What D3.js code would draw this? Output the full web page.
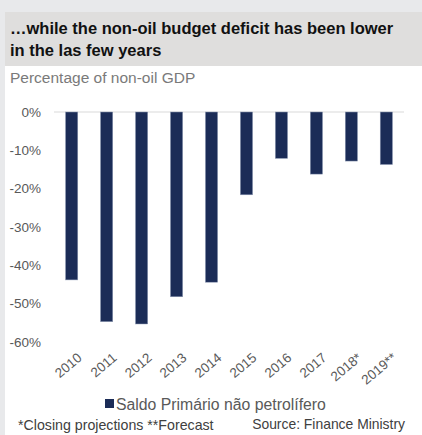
<!DOCTYPE html>
<html>
<head>
<meta charset="utf-8">
<script src="https://cdn.jsdelivr.net/npm/d3@7"></script>
<style>
  body { margin: 0; background: #fff; }
  text { font-family: "Liberation Sans", Arial, sans-serif; }
</style>
</head>
<body>
<div class="chart"></div>
<script>
// Data
const years = ["2010", "2011", "2012", "2013", "2014", "2015", "2016", "2017", "2018*", "2019**"];
const balance = [-43.8, -54.7, -55.3, -48.2, -44.4, -21.6, -12.1, -16.2, -12.8, -13.7];
const yTicks = [0, -10, -20, -30, -40, -50, -60];

const width = 422;
const height = 435;

const svg = d3.select(".chart")
  .append("svg")
  .attr("width", width)
  .attr("height", height);

// Background panels
svg.append("rect").attr("x", 0).attr("y", 0).attr("width", width).attr("height", height).attr("fill", "#fff");
svg.append("rect").attr("x", 0).attr("y", 0).attr("width", width).attr("height", 12).attr("fill", "#e8e9eb");
svg.append("rect").attr("x", 0).attr("y", 0).attr("width", 5).attr("height", height).attr("fill", "#e8e9eb");
svg.append("rect").attr("x", 5).attr("y", 12).attr("width", width - 5).attr("height", 54).attr("fill", "#dfdedd");

// Title and subtitle
const title = svg.append("text")
  .attr("x", 10)
  .attr("font-size", 16.5)
  .attr("font-weight", "bold")
  .attr("fill", "#111");
title.append("tspan").attr("x", 10).attr("y", 34).text("…while the non-oil budget deficit has been lower");
title.append("tspan").attr("x", 10).attr("y", 56).text("in the las few years");

svg.append("text")
  .attr("x", 10)
  .attr("y", 83)
  .attr("font-size", 15.5)
  .attr("fill", "#7a7a7a")
  .text("Percentage of non-oil GDP");

// Scales
const x = d3.scaleBand()
  .domain(years)
  .range([54, 404])
  .paddingInner(0.65)
  .paddingOuter(0.33);

const y = d3.scaleLinear()
  .domain([-60, 0])
  .range([342, 112]);

// Y axis labels
svg.append("g")
  .attr("transform", "translate(41,0)")
  .call(d3.axisLeft(y).tickValues(yTicks).tickSize(0).tickPadding(0).tickFormat(d => d + "%"))
  .call(g => g.select(".domain").remove())
  .call(g => g.selectAll("text")
    .attr("font-size", 13.5)
    .attr("fill", "#595959")
    .attr("font-family", "Liberation Sans, Arial, sans-serif"));

// Zero line
svg.append("line")
  .attr("x1", 54).attr("x2", 404)
  .attr("y1", y(0)).attr("y2", y(0))
  .attr("stroke", "#d9d9d9")
  .attr("stroke-width", 1);

// Bars
svg.append("g")
  .selectAll("rect")
  .data(years)
  .join("rect")
  .attr("x", (d, i) => x(d))
  .attr("y", y(0))
  .attr("width", x.bandwidth())
  .attr("height", (d, i) => y(balance[i]) - y(0))
  .attr("fill", "#1b2c57")
  .attr("stroke", "#8f9bb5")
  .attr("stroke-width", 0.5);

// X axis labels, rotated
svg.append("g")
  .attr("transform", "translate(0,352)")
  .call(d3.axisBottom(x).tickSize(0).tickPadding(0))
  .call(g => g.select(".domain").remove())
  .call(g => g.selectAll("text")
    .attr("font-size", 13.5)
    .attr("fill", "#595959")
    .attr("font-family", "Liberation Sans, Arial, sans-serif")
    .attr("text-anchor", "end")
    .attr("y", 0)
    .attr("dy", "0.7em")
    .attr("transform", "translate(5,0) rotate(-40)"));

// Legend
svg.append("rect")
  .attr("x", 105).attr("y", 399)
  .attr("width", 9).attr("height", 9)
  .attr("fill", "#1b2c57");
svg.append("text")
  .attr("x", 116).attr("y", 410)
  .attr("font-size", 15.8)
  .attr("fill", "#595959")
  .text("Saldo Primário não petrolífero");

// Footnotes
svg.append("text")
  .attr("x", 18).attr("y", 430)
  .attr("font-size", 14.2)
  .attr("fill", "#404040")
  .text("*Closing projections **Forecast");
svg.append("text")
  .attr("x", 405).attr("y", 429)
  .attr("text-anchor", "end")
  .attr("font-size", 13.9)
  .attr("fill", "#404040")
  .text("Source: Finance Ministry");
</script>
</body>
</html>
